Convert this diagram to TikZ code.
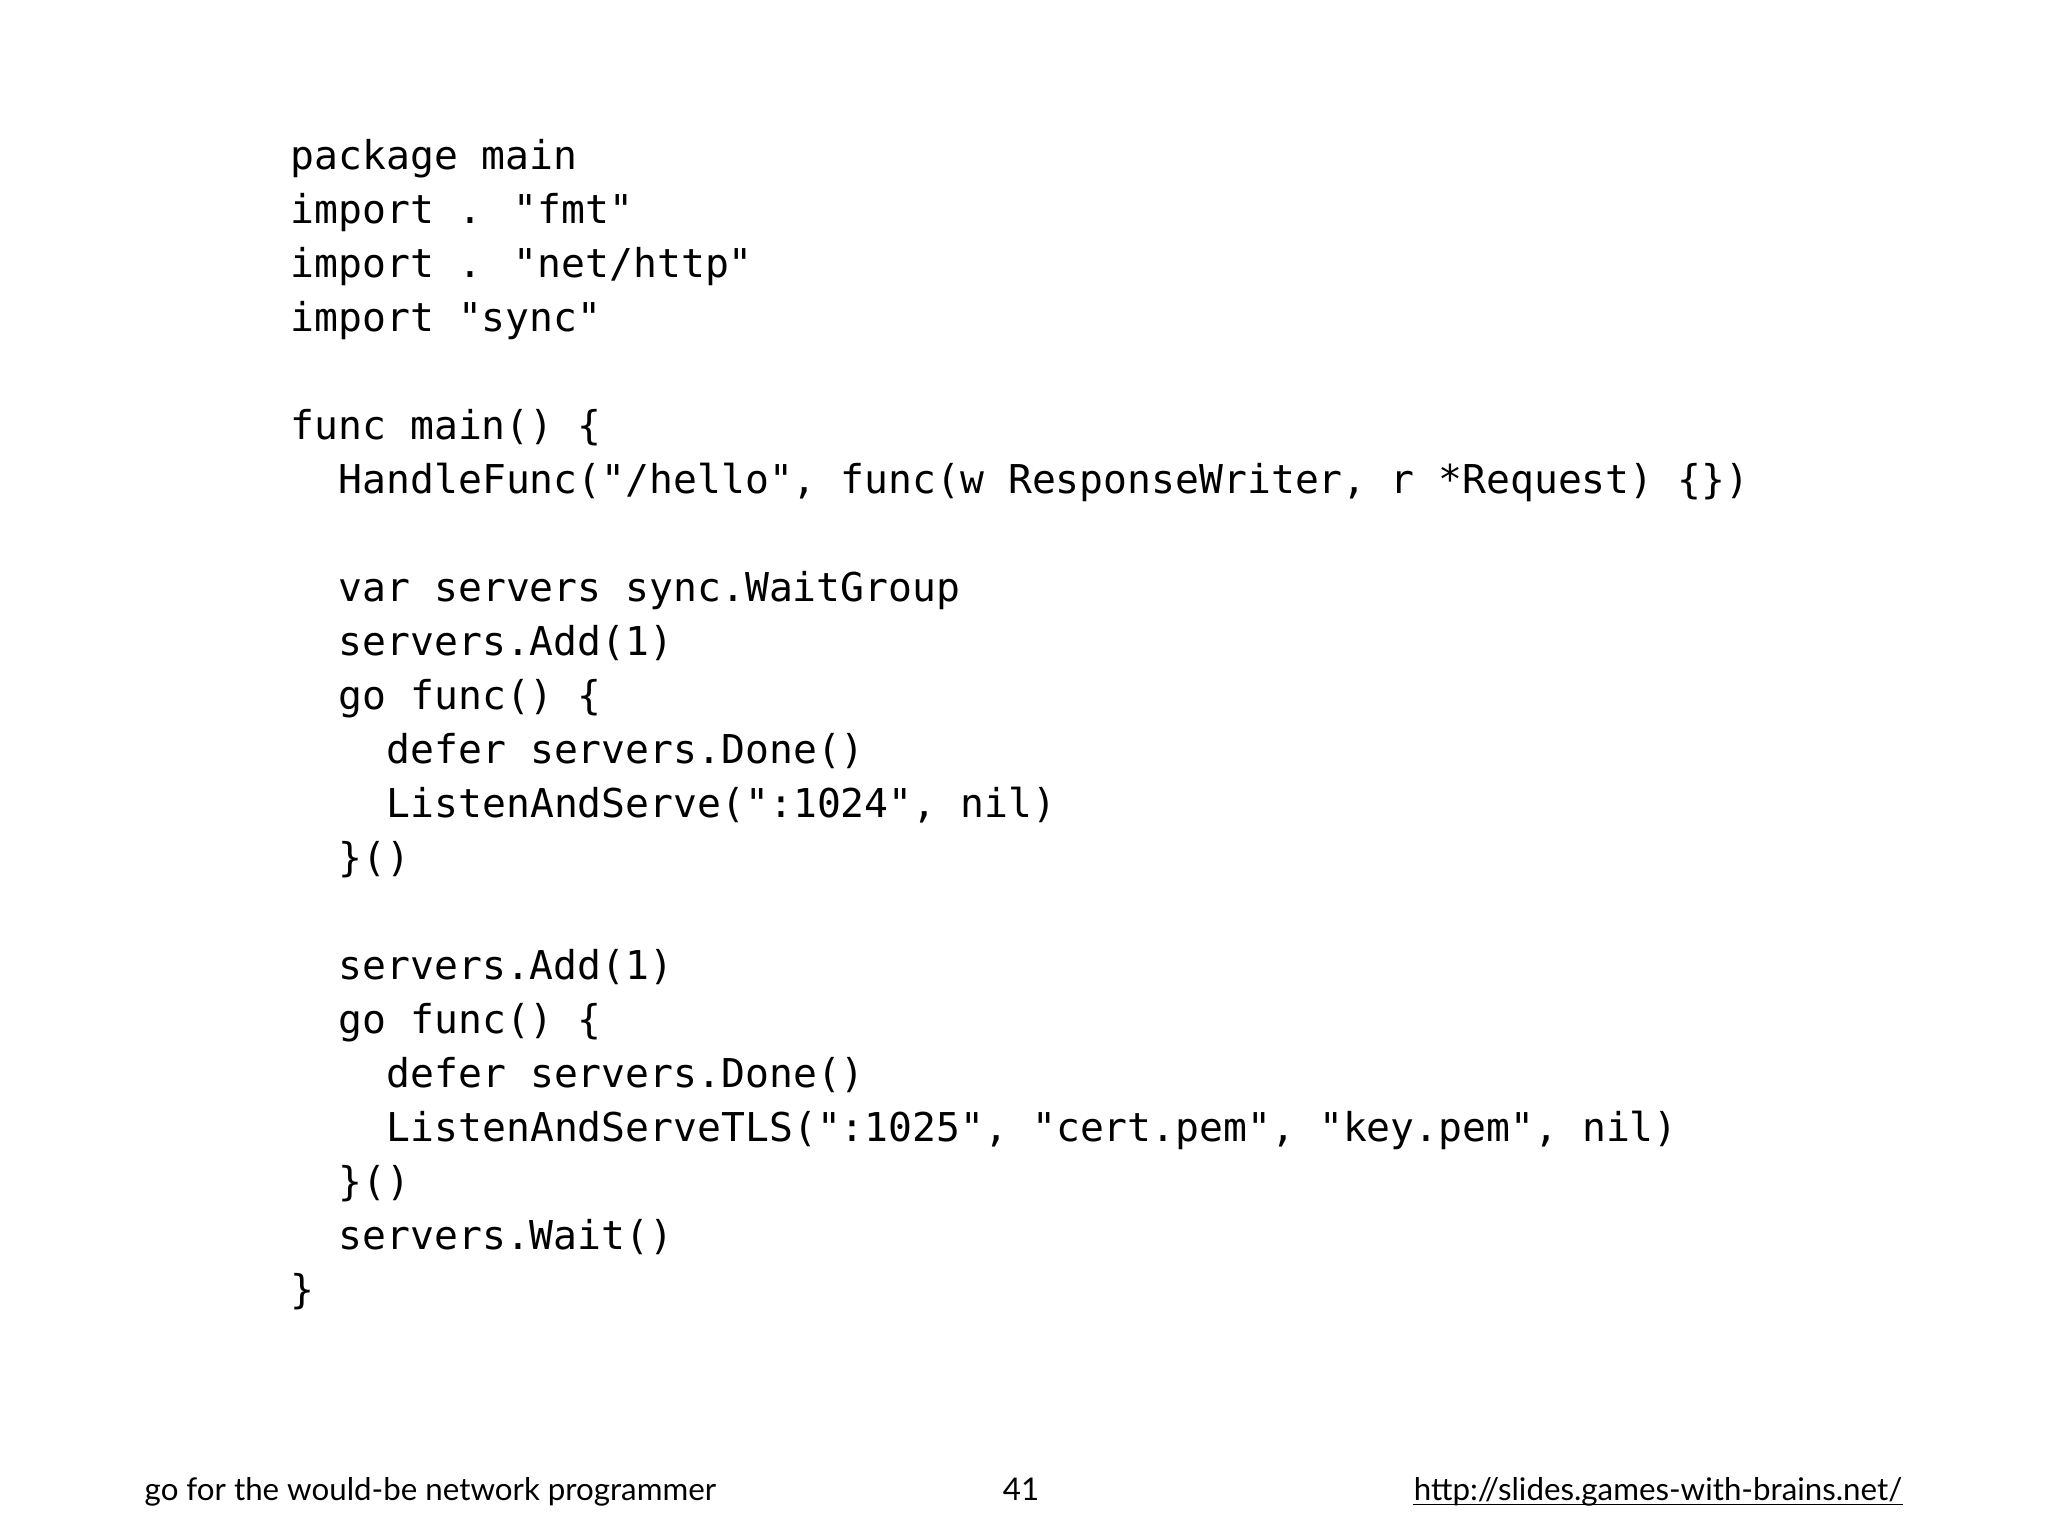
\documentclass[tikz,border=0pt]{standalone}
\usepackage{fontspec}
\newfontfamily\codefont{DejaVu Sans Mono}
\newfontfamily\footfont{Lato}
\begin{document}
\begin{tikzpicture}[x=1cm,y=1cm,
  code/.style={anchor=base west, font=\codefont\fontsize{11.3}{13}\selectfont, inner sep=0},
  foot/.style={font=\footfont\fontsize{8.9}{11}\selectfont, inner sep=0}]
\useasboundingbox[fill=white] (0,0) rectangle (20.48,15.36);
\def\L#1#2#3{\node[code] (l#1) at ({2.90+#2*0.48},{15.36-1.70-#1*0.54}) {#3};}
\L{0}{0}{package main}
\L{1}{0}{import . "fmt"}
\L{2}{0}{import . "net/http"}
\L{3}{0}{import "sync"}
\L{5}{0}{func main() \{}
\L{6}{1}{HandleFunc("/hello", func(w ResponseWriter, r *Request) \{\})}
\L{8}{1}{var servers sync.WaitGroup}
\L{9}{1}{servers.Add(1)}
\L{10}{1}{go func() \{}
\L{11}{2}{defer servers.Done()}
\L{12}{2}{ListenAndServe(":1024", nil)}
\L{13}{1}{\}()}
\L{15}{1}{servers.Add(1)}
\L{16}{1}{go func() \{}
\L{17}{2}{defer servers.Done()}
\L{18}{2}{ListenAndServeTLS(":1025", "cert.pem", "key.pem", nil)}
\L{19}{1}{\}()}
\L{20}{1}{servers.Wait()}
\L{21}{0}{\}}
\node[foot, anchor=base west] (f1) at (1.44,0.35) {go for the would-be network programmer};
\node[foot, anchor=base] (f2) at (10.21,0.35) {41};
\node[foot, anchor=base east] (f3) at (19.03,0.35) {http://slides.games-with-brains.net/};
\draw[line width=0.5pt] ([yshift=-1pt]f3.base west) -- ([yshift=-1pt]f3.base east);
\end{tikzpicture}
\end{document}
